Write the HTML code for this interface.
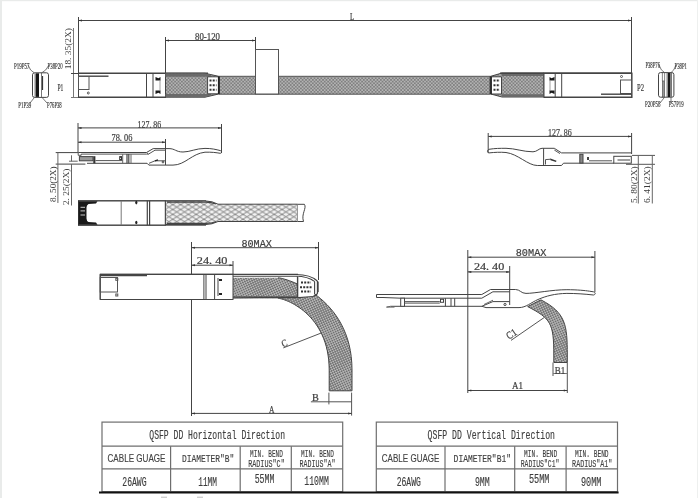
<!DOCTYPE html>
<html><head><meta charset="utf-8">
<style>
html,body{margin:0;padding:0;background:#fff;width:698px;height:498px;overflow:hidden}
svg{display:block;filter:blur(0.35px)}
text{font-family:"Liberation Serif",serif;fill:#3a3a3a}
.s{font-family:"Liberation Sans",sans-serif}
.m{font-family:"Liberation Mono",monospace}
</style></head><body>
<svg width="698" height="498" viewBox="0 0 698 498">
<defs>
 <pattern id="knurl" width="3.4" height="3.4" patternUnits="userSpaceOnUse">
  <rect width="3.4" height="3.4" fill="#808080"/>
  <circle cx="0" cy="0" r="0.8" fill="#cacaca"/><circle cx="3.4" cy="0" r="0.8" fill="#cacaca"/>
  <circle cx="0" cy="3.4" r="0.8" fill="#cacaca"/><circle cx="3.4" cy="3.4" r="0.8" fill="#cacaca"/>
  <circle cx="1.7" cy="1.7" r="0.8" fill="#cacaca"/>
 </pattern>
<pattern id="knurl2" width="3.2" height="3.2" patternUnits="userSpaceOnUse" patternTransform="rotate(20)">
  <rect width="3.2" height="3.2" fill="#727272"/>
  <circle cx="0" cy="0" r="0.75" fill="#d6d6d6"/><circle cx="3.2" cy="0" r="0.75" fill="#d6d6d6"/>
  <circle cx="0" cy="3.2" r="0.75" fill="#d6d6d6"/><circle cx="3.2" cy="3.2" r="0.75" fill="#d6d6d6"/>
  <circle cx="1.6" cy="1.6" r="0.75" fill="#d6d6d6"/>
 </pattern>
 <pattern id="braid" width="7.8" height="4.9" patternUnits="userSpaceOnUse" x="165" y="204.6">
  <rect width="7.8" height="4.9" fill="#f2f2f2"/>
  <path d="M0,0 L7.8,4.9 M0,4.9 L7.8,0 M-7.8,0 L7.8,9.8 M-7.8,4.9 L7.8,-4.9 M0,-4.9 L15.6,4.9 M0,9.8 L15.6,0" stroke="#6e6e6e" stroke-width="0.85" fill="none"/>
 </pattern>
<marker id="ar" viewBox="-4 -2 4 4" refX="0" refY="0" markerWidth="4" markerHeight="4" markerUnits="userSpaceOnUse" orient="auto-start-reverse">
  <path d="M0,0 L-3.5,-1 L-3.5,1 Z" fill="#333"/>
 </marker>
</defs>
<rect width="698" height="498" fill="#fff"/>
<!-- frame -->
<rect x="0" y="0" width="2" height="498" fill="#e9ebea"/>
<rect x="0" y="0" width="698" height="1.2" fill="#e9ebea"/>
<rect x="697" y="0" width="1" height="498" fill="#eef0ef"/>

<g id="sec1" fill="none" stroke="#444" stroke-width="1">
 <!-- L dimension -->
 <line x1="78.5" y1="20.5" x2="631.5" y2="20.5" marker-start="url(#ar)" marker-end="url(#ar)"/>
 <line x1="78.5" y1="17" x2="78.5" y2="73"/>
 <line x1="631.5" y1="17" x2="631.5" y2="73"/>
 <!-- 18.35 dim -->
 <line x1="73.5" y1="28" x2="73.5" y2="97" stroke="#777"/>
 <line x1="71" y1="73.5" x2="78" y2="73.5"/>
 <line x1="71" y1="97.5" x2="78" y2="97.5" stroke="#777"/>
 <!-- 80-120 dim -->
 <line x1="165.5" y1="40.5" x2="255.5" y2="40.5" marker-start="url(#ar)" marker-end="url(#ar)"/>
 <line x1="165.5" y1="37" x2="165.5" y2="73"/>
 <line x1="255.5" y1="37" x2="255.5" y2="49"/>

 <!-- cable -->
 <rect x="219" y="76.3" width="271" height="18" fill="url(#knurl)" stroke="none"/>
 <line x1="219" y1="76.3" x2="490" y2="76.3" stroke="#555"/>
 <line x1="219" y1="94.2" x2="490" y2="94.2" stroke="#555"/>
 <!-- tag box -->
 <rect x="255.5" y="49.5" width="23" height="44.5" fill="#fff" stroke="#555"/>

 <!-- left connector metal -->
 <rect x="78.5" y="73.5" width="87" height="24" fill="#fff"/>
 <line x1="78" y1="73.3" x2="208" y2="73.3" stroke-width="1.6"/>
 <line x1="78.5" y1="76.2" x2="108.5" y2="76.2" stroke-width="1.4"/>
 <rect x="78.5" y="76.5" width="10.5" height="13" stroke="#555"/>
 <circle cx="88.3" cy="93" r="1" stroke="#555"/>
 <line x1="146.5" y1="73.5" x2="146.5" y2="97.5"/>
 <line x1="153" y1="73.5" x2="153" y2="97.5"/>
 <path d="M155.5,77 L158.5,78.3 L160.5,77 L160.5,80.5 L155.5,80.5 Z M155.5,90.5 L160.5,90.5 L160.5,94 L158.5,92.7 L155.5,94 Z" fill="#1a1a1a" stroke="none"/>
 <line x1="160" y1="80" x2="160" y2="91" stroke="#888" stroke-width="0.8"/>
 <!-- left overmold -->
 <path d="M165.5,73.3 L205,73.3 L219.5,76.5 L219.5,93.8 L205,97.2 L165.5,97.2 Z" fill="url(#knurl)" stroke="#444"/>
 <path d="M165.5,73.5 h39.5 l6,1.3 v2 h-45.5z M165.5,97 h39.5 l6,-1.3 v-1.6 h-45.5z" fill="#6a6a6a" stroke="none"/>
 <path d="M207.6,76.8 L218.5,76.8 L218.5,93.8 L207.6,93.8 Z" fill="#fff" stroke="#444"/>
 <path d="M209.5,80.5 h7 M209.5,85.2 h7 M209.5,89.8 h7" stroke="#333" stroke-width="2" stroke-dasharray="2 1.2"/>
 <line x1="218.7" y1="76.5" x2="218.7" y2="94" stroke="#222" stroke-width="1.6"/>
 <line x1="78.5" y1="97.3" x2="165.5" y2="97.3" stroke-width="1.4"/>

 <!-- right overmold -->
 <path d="M490,76.5 L502,73 L544,73 L544,97 L502,97 L490,93.8 Z" fill="url(#knurl)" stroke="#444"/>
 <path d="M502,73.2 h42 v2.8 h-42z M502,94.3 h42 v2.6 h-42z" fill="#6a6a6a" stroke="none"/>
 <path d="M491.2,76.8 L501.5,76.8 L501.5,94 L491.2,94 Z" fill="#fff" stroke="#444"/>
 <path d="M493.5,80.5 h6.5 M493.5,85.2 h6.5 M493.5,89.8 h6.5" stroke="#333" stroke-width="2" stroke-dasharray="2 1.2"/>
 <line x1="491" y1="76.5" x2="491" y2="94.2" stroke="#222" stroke-width="1.6"/>
 <!-- right connector metal -->
 <rect x="544" y="73" width="88" height="24.5" fill="#fff"/>
 <line x1="500" y1="73.2" x2="632" y2="73.2" stroke-width="1.6"/>
 <line x1="544" y1="97.3" x2="632" y2="97.3" stroke-width="1.4"/>
 <line x1="631.6" y1="73" x2="631.6" y2="97.5"/>
 <line x1="555.2" y1="73" x2="555.2" y2="97.5"/>
 <line x1="561.7" y1="73" x2="561.7" y2="97.5"/>
 <path d="M549.5,77 L551.5,78.3 L554.5,77 L554.5,80.5 L549.5,80.5 Z M549.5,90.5 L554.5,90.5 L554.5,94 L551.5,92.7 L549.5,94 Z" fill="#1a1a1a" stroke="none"/>
 <line x1="550" y1="80" x2="550" y2="91" stroke="#888" stroke-width="0.8"/>
 <rect x="620.5" y="80" width="11" height="13.5" stroke="#555"/>
 <path d="M601,94.2 H631.5" stroke-width="1.4"/>
 <circle cx="621.5" cy="76.5" r="1" stroke="#555"/>

 <!-- end faces -->
 <rect x="32.5" y="72.8" width="16" height="24.6" rx="2" stroke="#444"/>
 <rect x="34.5" y="73.3" width="1.5" height="23.6" fill="#888" stroke="none"/>
 <rect x="36" y="73.3" width="3" height="23.6" fill="#141414" stroke="none"/>
 <line x1="41.5" y1="73" x2="41.5" y2="97.3" stroke="#555" stroke-width="0.8"/>
 <line x1="42.6" y1="76" x2="42.6" y2="90" stroke="#222" stroke-width="1"/>
 <path d="M28,65 Q30,71 34.5,73 M49,65 Q46,71 41.5,73 M30,103 L34.5,97.4 M47,103 L42,97.4" stroke="#555" stroke-width="0.8"/>

 <rect x="658.5" y="72.6" width="15.4" height="24.6" rx="2" stroke="#444"/>
 <rect x="662.4" y="81" width="2.2" height="16" fill="#999" stroke="#555" stroke-width="0.7"/>
 <path d="M662.4,73 V81 M664.6,73 V81" stroke="#555" stroke-width="0.7"/>
 <rect x="667.7" y="73" width="2.4" height="24" fill="#1a1a1a" stroke="none"/>
 <rect x="670.1" y="73" width="1.9" height="24" fill="#777" stroke="none"/>
 <line x1="667" y1="73" x2="667" y2="97" stroke="#555" stroke-width="0.7"/>
 <path d="M659,65 Q661,71 664.6,72.6 M676,65 Q674,71 671,72.6 M660,103 L664.6,97.2 M671,103 L671,97.2" stroke="#555" stroke-width="0.8"/>
</g>
<g id="t1" stroke="#4a4a4a" stroke-width="0.22">
 <text x="350" y="19.7" font-size="10" textLength="4.2" lengthAdjust="spacingAndGlyphs" style="font-family:'Liberation Serif'" fill="#474747">L</text>
 <text x="195" y="39.9" font-size="10" textLength="25" lengthAdjust="spacingAndGlyphs" style="font-family:'Liberation Serif'" fill="#474747">80-120</text>
 <text transform="translate(71.4,69.3) rotate(-90)" font-size="8" textLength="41.2" lengthAdjust="spacingAndGlyphs" style="font-family:'Liberation Serif'" fill="#606060" stroke="none">18. 35(2X)</text>
 <text x="57.4" y="91.3" font-size="10.5" textLength="5.9" lengthAdjust="spacingAndGlyphs" style="font-family:'Liberation Serif'" fill="#474747">P1</text>
 <text x="637" y="90.6" font-size="10.5" textLength="7" lengthAdjust="spacingAndGlyphs" style="font-family:'Liberation Serif'" fill="#474747">P2</text>
 <g font-size="6" fill="#444">
 <text x="14" y="68.6" font-size="7.6" textLength="15.5" lengthAdjust="spacingAndGlyphs" style="font-family:'Liberation Serif'" fill="#444">P19P57</text>
 <text x="47.6" y="68.6" font-size="7.6" textLength="15.0" lengthAdjust="spacingAndGlyphs" style="font-family:'Liberation Serif'" fill="#444">P38P20</text>
 <text x="18.3" y="107.5" font-size="7.6" textLength="12.9" lengthAdjust="spacingAndGlyphs" style="font-family:'Liberation Serif'" fill="#444">P1P39</text>
 <text x="47.1" y="107.5" font-size="7.6" textLength="14.6" lengthAdjust="spacingAndGlyphs" style="font-family:'Liberation Serif'" fill="#444">P76P38</text>
 <text x="645.4" y="68.4" font-size="7.6" textLength="14.6" lengthAdjust="spacingAndGlyphs" style="font-family:'Liberation Serif'" fill="#444">P38P76</text>
 <text x="674.5" y="68.8" font-size="7.6" textLength="12.5" lengthAdjust="spacingAndGlyphs" style="font-family:'Liberation Serif'" fill="#444">P38P1</text>
 <text x="645" y="106.5" font-size="7.6" textLength="15.4" lengthAdjust="spacingAndGlyphs" style="font-family:'Liberation Serif'" fill="#444">P20P58</text>
 <text x="668.7" y="106.5" font-size="7.6" textLength="14.9" lengthAdjust="spacingAndGlyphs" style="font-family:'Liberation Serif'" fill="#444">P57P19</text>
 </g>
</g>

<!-- SECTION 2 -->
<g id="sec2" fill="none" stroke="#444" stroke-width="1">
 <!-- left side profile dims -->
 <line x1="78" y1="127.9" x2="221.5" y2="127.9" marker-start="url(#ar)" marker-end="url(#ar)"/>
 <line x1="78" y1="142.2" x2="165.5" y2="142.2" marker-start="url(#ar)" marker-end="url(#ar)"/>
 <line x1="78" y1="123" x2="78" y2="152.5"/>
 <line x1="165.5" y1="139" x2="165.5" y2="165"/>
 <line x1="221.5" y1="124" x2="221.5" y2="153"/>
 <line x1="55.7" y1="152.6" x2="78" y2="152.6"/>
 <line x1="55.7" y1="164.1" x2="85.4" y2="164.1"/>
 <line x1="57.9" y1="152.6" x2="57.9" y2="203" stroke="#666"/>
 <line x1="71.5" y1="155.3" x2="71.5" y2="161.3" stroke="#666"/>
 <line x1="69" y1="161.2" x2="77.7" y2="161.2" stroke="#666"/>
 <line x1="71.5" y1="164" x2="71.5" y2="205.5" stroke="#666"/>
 <!-- left side profile -->
 <path d="M78.2,152.5 L146.5,152.5 L153.2,148.6 L169,148.6 C175,148.6 176,152 183,152 C190,152 196,148.4 205,148.4 C212,148.4 216,149.5 220.3,150.6"/>
 <path d="M87,163.3 L147.1,163.3 L148.9,165.1 L173,165.1 C185,165.1 192,153.5 205,152.2 C212,152 216,152.6 220.3,153.3"/>
 <path d="M220.3,150.6 C222.2,151 222.2,153 220.3,153.3"/>
 <path d="M78.2,152.5 v2.8 h3 v-1.2 H146.5 L148.5,154.1 L155,150.2 H165.5" stroke="#555"/>
 <path d="M146.5,152.5 L148.5,154.1" stroke="#555"/>
 <rect x="79.4" y="156.6" width="13.6" height="4.2" fill="#9a9a9a" stroke="#444"/>
 <rect x="93.3" y="156.2" width="2.1" height="7.1" fill="#333" stroke="none"/>
 <path d="M95.4,160.6 H122.7" stroke="#555"/>
 <rect x="119.7" y="156.6" width="1.8" height="3" stroke="#333"/>
 <path d="M122.7,154.1 v9.2 M131,154.1 v9.2" stroke="#666"/>
 <path d="M127,154.1 v9.2 M128.8,154.1 v9.2" stroke-width="1.2"/>
 <path d="M149,163.3 L155,160.8 H165.5" stroke="#555"/>
 <path d="M155,160.8 l3,-0.9" stroke="#222" stroke-width="1.4"/>
 <circle cx="163" cy="162" r="0.9" stroke="#444"/>

 <!-- top view connector -->
 <rect x="78.5" y="200.8" width="87" height="24.4" fill="#fff"/>
 <line x1="78" y1="200.8" x2="206" y2="200.8"/>
 <line x1="78" y1="225.2" x2="206" y2="225.2"/>
 <line x1="78.5" y1="200.8" x2="78.5" y2="225.2"/>
 <path d="M78.5,201.3 H97.5 L96,203.6 L88.5,204 Q86.5,205 86.5,207.5 V218.5 Q86.5,221 88.5,222 L96,222.4 L97.5,224.8 H78.5 Z" fill="#1a1a1a" stroke="none"/>
 <path d="M80.5,207.3 h4.5 M80.5,210.9 h4.5 M80.5,215 h4.5" stroke="#ddd" stroke-width="0.9"/>
 <line x1="121.2" y1="200.8" x2="121.2" y2="225.2" stroke="#777"/>
 <line x1="147.3" y1="200.8" x2="147.3" y2="225.2" stroke-width="1.2"/>
 <line x1="149.6" y1="200.8" x2="149.6" y2="225.2" stroke-width="1.2"/>
 <line x1="165.4" y1="200.8" x2="165.4" y2="225.2"/>
 <ellipse cx="136.3" cy="202.6" rx="1.1" ry="1.8" fill="#222" stroke="none"/>
 <ellipse cx="136.3" cy="222.5" rx="1.1" ry="1.8" fill="#222" stroke="none"/>
 <!-- braid -->
 <path d="M165.4,201 L206,201 Q212,201 218,204.2 L297.6,204.2 L297.6,221.5 L218,221.5 Q212,224.5 206,224.5 L165.4,224.5 Z" fill="url(#braid)" stroke="#444"/>
 <path d="M167,202.2 H206 Q211,202.2 216,204 M167,223.4 H206 Q211,223.4 216,221.8" stroke="#444" stroke-width="1.2"/>
 <path d="M297.6,204.3 L304.4,204.3 C307,208 301,214 303.5,221.5 L297.6,221.5" fill="#fff" stroke="#444"/>

 <!-- right side profile dims -->
 <line x1="488.2" y1="136.4" x2="631.5" y2="136.4" marker-start="url(#ar)" marker-end="url(#ar)"/>
 <line x1="488.2" y1="133" x2="488.2" y2="153"/>
 <line x1="631.6" y1="133" x2="631.6" y2="154"/>
 <line x1="632" y1="155.4" x2="655" y2="155.4" stroke="#555"/>
 <line x1="626" y1="164.3" x2="655" y2="164.3" stroke="#555"/>
 <line x1="638.3" y1="155.4" x2="638.3" y2="203.5" stroke="#666"/>
 <line x1="652.3" y1="155.4" x2="652.3" y2="203.5" stroke="#666"/>
 <!-- right side profile -->
 <path d="M489,149.3 C495,148.3 500,148.3 506,148.3 C515,148.3 523,151.8 533,151.8 C537,151.8 539,148.3 542,148.3 L554.3,148.3 L561.5,152.9 L631.6,152.9"/>
 <path d="M489,152.9 C495,152.3 500,152 506,152.5 C518,154 528,165.5 537.3,165.5 L561.5,165.5 L563.5,163.2 L614,163.2"/>
 <path d="M489,149.3 C487,150 487,152.5 489,152.9"/>
 <line x1="543.6" y1="148.3" x2="543.6" y2="165.5"/>
 <path d="M554.3,150 L560,153.6" stroke="#555"/>
 <path d="M545.5,164.5 V159.6 L551,159.2" stroke="#555"/>
 <path d="M550.5,158.6 L556.5,160.8 L556,162 L550.5,160.2 Z" fill="#333" stroke="none"/>
 <rect x="579.8" y="154.3" width="3.2" height="8.8" fill="#888" stroke="#444"/>
 <rect x="587" y="157" width="2" height="3" fill="#444" stroke="none"/>
 <path d="M589,160.8 H612" stroke="#555"/>
 <rect x="613.8" y="156.3" width="17.5" height="6.9" stroke="#444"/>
 <line x1="617.5" y1="160" x2="630" y2="160" stroke="#888" stroke-width="1.6"/>
</g>
<g id="t2" stroke="#4a4a4a" stroke-width="0.22">
 <text x="137.6" y="127.8" font-size="10.8" textLength="23.6" lengthAdjust="spacingAndGlyphs" style="font-family:'Liberation Serif'" fill="#474747">127. 86</text>
 <text x="111.5" y="140.9" font-size="10" textLength="20.8" lengthAdjust="spacingAndGlyphs" style="font-family:'Liberation Serif'" fill="#474747">78. 06</text>
 <text x="548" y="135.6" font-size="10.8" textLength="23.8" lengthAdjust="spacingAndGlyphs" style="font-family:'Liberation Serif'" fill="#474747">127. 86</text>
 <text transform="translate(56,202.1) rotate(-90)" font-size="8.3" textLength="35.6" lengthAdjust="spacingAndGlyphs" style="font-family:'Liberation Serif'" fill="#606060" stroke="none">8. 50(2X)</text>
 <text transform="translate(69.4,205.1) rotate(-90)" font-size="8.3" textLength="36.6" lengthAdjust="spacingAndGlyphs" style="font-family:'Liberation Serif'" fill="#606060" stroke="none">2. 25(2X)</text>
 <text transform="translate(636.9,203.1) rotate(-90)" font-size="8.3" textLength="36.8" lengthAdjust="spacingAndGlyphs" style="font-family:'Liberation Serif'" fill="#606060" stroke="none">5. 80(2X)</text>
 <text transform="translate(650.1,203.1) rotate(-90)" font-size="8.3" textLength="36.8" lengthAdjust="spacingAndGlyphs" style="font-family:'Liberation Serif'" fill="#606060" stroke="none">6. 41(2X)</text>
</g>

<!-- SECTION 3 : horizontal bend -->
<g id="sec3" fill="none" stroke="#444" stroke-width="1">
 <line x1="191.5" y1="247.7" x2="318.5" y2="247.7" marker-start="url(#ar)" marker-end="url(#ar)"/>
 <line x1="191.5" y1="265.2" x2="233" y2="265.2" marker-start="url(#ar)" marker-end="url(#ar)"/>
 <line x1="191.5" y1="242" x2="191.5" y2="416"/>
 <line x1="233" y1="261" x2="233" y2="274"/>
 <line x1="318.5" y1="242" x2="318.5" y2="280"/>
 <!-- bend cable -->
 <path d="M233,277.8 L278,277.8 C284,277.8 352,295.5 352,370 L352,390.8 L329.2,390.8 L329.2,370 C329.2,313 284,298.3 278,298.3 L233,298.3 Z" fill="url(#knurl2)" stroke="none"/>
 <path d="M278,277.8 C284,277.8 352,295.5 352,370 L352,390.8 M329.2,390.8 L329.2,370 C329.2,313 284,298.3 278,298.3" stroke="#444"/>
 <path d="M329.2,390.8 H352" stroke="#444"/>
 <!-- connector -->
 <rect x="100.2" y="274.3" width="132.8" height="25.2" fill="#fff"/>
 <line x1="100" y1="274.3" x2="298" y2="274.3" stroke-width="1.3"/>
 <line x1="100" y1="299.5" x2="233" y2="299.5"/>
 <line x1="100" y1="275.6" x2="147" y2="275.6" stroke-width="1.5"/>
 <line x1="100.2" y1="274.3" x2="100.2" y2="299.5"/>
 <rect x="100.2" y="277.5" width="17.3" height="14.5" stroke="#555"/>
 <rect x="115.8" y="278.3" width="2" height="2" stroke="#555"/>
 <rect x="115.8" y="294" width="2" height="2" stroke="#555"/>
 <line x1="203.9" y1="274.3" x2="203.9" y2="299.5"/>
 <line x1="206" y1="274.3" x2="206" y2="299.5"/>
 <line x1="214.6" y1="274.3" x2="214.6" y2="299.5"/>
 <line x1="218" y1="278" x2="218" y2="296"/>
 <path d="M219,279 h3 v2 h-3z M219,293 h3 v2 h-3z" fill="#222" stroke="none"/>
 <!-- overmold -->
 <path d="M233,274.5 L296,274.5 C305,274.5 312,276 317.3,281" stroke-width="1.2"/>
 <path d="M233,276.3 L296,276.3 C304,276.3 310,278 314.9,281.7" stroke-width="1.1"/>
 <path d="M233,297.8 L298.3,297.5 L313.5,296.2 C316.5,295.3 317.5,294 317.5,292.6 L317.5,281" stroke-width="1.3"/>
 <path d="M233,296.6 L297.6,296.6" stroke="#555" stroke-width="0.8"/>
 <path d="M297.6,276.5 L297.6,297.2 L298,297 L313,296 Q314.6,295 314.6,293 L314.6,282 L297.6,276.5 Z" fill="#fff" stroke="none"/>
 <path d="M297.6,276.3 V297.3" stroke-width="1.4"/>
 <path d="M314.6,282 V294" stroke-width="1.1"/>
 <path d="M317.9,281.7 V292" stroke-width="1.5"/>
 <path d="M301,282.5 h10 M300,287.2 h12 M301,291.5 h10" stroke="#333" stroke-width="2" stroke-dasharray="2 1.2"/>
 <!-- C leader -->
 <line x1="283.3" y1="347.9" x2="321.5" y2="332.9" stroke="#555"/>
 <!-- B dim -->
 <line x1="328.9" y1="392.6" x2="328.9" y2="404.4" stroke="#555"/>
 <line x1="351.6" y1="392.6" x2="351.6" y2="415.6" stroke="#555"/>
 <line x1="310.9" y1="401.8" x2="351.6" y2="401.8" stroke="#555"/>
 <!-- A dim -->
 <line x1="191.5" y1="413.4" x2="351.6" y2="413.4" marker-start="url(#ar)" marker-end="url(#ar)"/>
</g>
<g id="t3" stroke="#4a4a4a" stroke-width="0.22">
 <text x="241.4" y="246.9" font-size="11.5" textLength="30.4" lengthAdjust="spacingAndGlyphs" style="font-family:'Liberation Mono'" fill="#474747">80MAX</text>
 <text x="196.8" y="264.4" font-size="10.8" textLength="30.7" lengthAdjust="spacingAndGlyphs" style="font-family:'Liberation Serif'" fill="#4a5060">24. 40</text>
 <text transform="translate(283,347.3) rotate(-21)" x="0" y="0" font-size="10" textLength="5.4" lengthAdjust="spacingAndGlyphs" style="font-family:'Liberation Serif'" fill="#474747">C</text>
 <text x="312" y="401" font-size="9.5" textLength="6.8" lengthAdjust="spacingAndGlyphs" style="font-family:'Liberation Serif'" fill="#474747">B</text>
 <text x="269" y="413" font-size="10" textLength="5.4" lengthAdjust="spacingAndGlyphs" style="font-family:'Liberation Serif'" fill="#474747">A</text>
</g>

<!-- SECTION 4 : vertical bend -->
<g id="sec4" fill="none" stroke="#444" stroke-width="1">
 <line x1="467.8" y1="257.2" x2="594.9" y2="257.2" marker-start="url(#ar)" marker-end="url(#ar)"/>
 <line x1="467.8" y1="271.9" x2="509.7" y2="271.9" marker-start="url(#ar)" marker-end="url(#ar)"/>
 <line x1="467.8" y1="250" x2="467.8" y2="393"/>
 <line x1="509.7" y1="266" x2="509.7" y2="305"/>
 <line x1="594.9" y1="251" x2="594.9" y2="292"/>
 <!-- bend cable -->
 <path d="M527.7,306.6 C550.8,318.6 553.8,323 553.8,355 L553.8,362.5 L567.3,362.5 L567.3,355 C567.3,325 565.8,312.8 541,299.9 C536,302 531,305 527.7,306.6 Z" fill="url(#knurl2)" stroke="#444"/>
 <!-- profile -->
 <path d="M376.5,294.5 L481.8,294.5 L490.5,289.5 L515.6,289.5 C520,289.5 521,293.4 526,293.4 C535,293.4 552,289.7 566.9,289.7 C577,289.7 585,290.5 589.5,291.2 L593.5,291.8"/>
 <path d="M593.5,291.8 C595.8,292.5 595.8,294.5 593.5,295"/>
 <path d="M593.5,295 C585,294 575,293.4 566.9,293.4 C555,293.6 546,296 538,299.5 C531,302.5 526,307.6 519,307.6 L486,307.6 L482,306.3 L390.5,306.3"/>
 <path d="M376.5,294.5 v3 h6.5 L400.7,298.2 L481.8,298.2 L492.9,291.8 L509.7,291.8"/>
 <path d="M390.5,306.3 l-4,0.8 h8" stroke="#666"/>
 <rect x="400.7" y="298.2" width="3.8" height="8.1" fill="#fff"/>
 <path d="M404.5,301.6 H439.8 M404.5,303.1 H439.8" stroke="#555"/>
 <rect x="440.5" y="299.3" width="3" height="3" stroke="#444"/>
 <path d="M445.4,298.2 v8.1 M451,298.2 v8.1 M454.7,298.2 v8.1"/>
 <path d="M481.8,306.3 L492.9,301.6 L509.7,301.6"/>
 <path d="M484,304.5 L493,300.2" stroke="#666"/>
 <circle cx="505" cy="304.5" r="1.1" stroke="#444"/>
 <!-- C1 leader -->
 <line x1="511" y1="340.4" x2="544.1" y2="317.6" stroke="#555"/>
 <!-- B1 -->
 <line x1="553" y1="362.5" x2="553" y2="376" stroke="#555"/>
 <line x1="567.3" y1="362.5" x2="567.3" y2="393" stroke="#555"/>
 <line x1="553" y1="373.5" x2="567.3" y2="373.5" stroke="#777"/>
 <!-- A1 dim -->
 <line x1="467.8" y1="390.5" x2="567.3" y2="390.5" marker-start="url(#ar)" marker-end="url(#ar)"/>
</g>
<g id="t4" stroke="#4a4a4a" stroke-width="0.22">
 <text x="515.7" y="256.1" font-size="11.5" textLength="30.8" lengthAdjust="spacingAndGlyphs" style="font-family:'Liberation Mono'" fill="#474747">80MAX</text>
 <text x="473.9" y="270.3" font-size="10.8" textLength="30.4" lengthAdjust="spacingAndGlyphs" style="font-family:'Liberation Serif'" fill="#474747">24. 40</text>
 <text x="554.7" y="374" font-size="10" textLength="10.4" lengthAdjust="spacingAndGlyphs" style="font-family:'Liberation Serif'" fill="#474747">B1</text>
 <text x="512" y="389.4" font-size="10" textLength="11" lengthAdjust="spacingAndGlyphs" style="font-family:'Liberation Serif'" fill="#474747">A1</text>
 <text transform="translate(509,339.8) rotate(-34)" font-size="10.5" textLength="10.5" lengthAdjust="spacingAndGlyphs" fill="#474747">C1</text>
</g>

<!-- TABLES -->
<g id="tables" fill="none" stroke="#6e6e6e" stroke-width="1.2">
 <rect x="102" y="422.1" width="240.7" height="69.6"/>
 <line x1="102" y1="446.2" x2="342.7" y2="446.2"/>
 <line x1="102" y1="468.9" x2="342.7" y2="468.9"/>
 <line x1="170.6" y1="446.2" x2="170.6" y2="491.7"/>
 <line x1="240.2" y1="446.2" x2="240.2" y2="491.7"/>
 <line x1="291.3" y1="446.2" x2="291.3" y2="491.7"/>

 <rect x="376.3" y="422.1" width="241.2" height="69.6"/>
 <line x1="376.3" y1="446.2" x2="617.5" y2="446.2"/>
 <line x1="376.3" y1="468.9" x2="617.5" y2="468.9"/>
 <line x1="445" y1="446.2" x2="445" y2="491.7"/>
 <line x1="514.7" y1="446.2" x2="514.7" y2="491.7"/>
 <line x1="566.1" y1="446.2" x2="566.1" y2="491.7"/>
 <line x1="99" y1="492.4" x2="618.6" y2="492.4" stroke="#111" stroke-width="2"/>
</g>
<g id="t5" stroke="#4a4a4a" stroke-width="0.15">
 <text x="149.3" y="439" font-size="12" textLength="135.7" lengthAdjust="spacingAndGlyphs" style="font-family:'Liberation Mono'" fill="#4a4a4a">QSFP DD Horizontal Direction</text>
 <text x="427.6" y="439" font-size="12" textLength="127.4" lengthAdjust="spacingAndGlyphs" style="font-family:'Liberation Mono'" fill="#4a4a4a">QSFP DD Vertical Direction</text>
 <text x="107.5" y="461.6" font-size="10.2" textLength="58.0" lengthAdjust="spacingAndGlyphs" style="font-family:'Liberation Sans'" fill="#555" stroke="#555" stroke-width="0.12">CABLE GUAGE</text>
 <text x="381.8" y="461.6" font-size="10.2" textLength="57.7" lengthAdjust="spacingAndGlyphs" style="font-family:'Liberation Sans'" fill="#555" stroke="#555" stroke-width="0.12">CABLE GUAGE</text>
 <text x="182" y="461.6" font-size="11.3" textLength="52.3" lengthAdjust="spacingAndGlyphs" style="font-family:'Liberation Mono'" fill="#474747">DIAMETER&quot;B&quot;</text>
 <text x="453.6" y="461.6" font-size="11.3" textLength="57.4" lengthAdjust="spacingAndGlyphs" style="font-family:'Liberation Mono'" fill="#474747">DIAMETER&quot;B1&quot;</text>
 <text x="250.1" y="457.2" font-size="10.8" textLength="32.8" lengthAdjust="spacingAndGlyphs" style="font-family:'Liberation Mono'" fill="#505050">MIN. BEND</text>
 <text x="248.2" y="466.9" font-size="10.8" textLength="36.5" lengthAdjust="spacingAndGlyphs" style="font-family:'Liberation Mono'" fill="#505050">RADIUS&quot;C&quot;</text>
 <text x="301.1" y="457.2" font-size="10.8" textLength="32.8" lengthAdjust="spacingAndGlyphs" style="font-family:'Liberation Mono'" fill="#505050">MIN. BEND</text>
 <text x="299.6" y="466.9" font-size="10.8" textLength="35.8" lengthAdjust="spacingAndGlyphs" style="font-family:'Liberation Mono'" fill="#505050">RADIUS&quot;A&quot;</text>
 <text x="524.1" y="457.2" font-size="10.8" textLength="33.1" lengthAdjust="spacingAndGlyphs" style="font-family:'Liberation Mono'" fill="#505050">MIN. BEND</text>
 <text x="520.7" y="466.9" font-size="10.8" textLength="38.8" lengthAdjust="spacingAndGlyphs" style="font-family:'Liberation Mono'" fill="#505050">RADIUS&quot;C1&quot;</text>
 <text x="575.1" y="457.2" font-size="10.8" textLength="33.5" lengthAdjust="spacingAndGlyphs" style="font-family:'Liberation Mono'" fill="#505050">MIN. BEND</text>
 <text x="572.1" y="466.9" font-size="10.8" textLength="40.3" lengthAdjust="spacingAndGlyphs" style="font-family:'Liberation Mono'" fill="#505050">RADIUS&quot;A1&quot;</text>
 <text x="122.3" y="485.8" font-size="12" textLength="24.3" lengthAdjust="spacingAndGlyphs" style="font-family:'Liberation Mono'" fill="#474747">26AWG</text>
 <text x="198.2" y="485.8" font-size="12" textLength="18.8" lengthAdjust="spacingAndGlyphs" style="font-family:'Liberation Mono'" fill="#474747">11MM</text>
 <text x="254.7" y="483.3" font-size="12" textLength="19.7" lengthAdjust="spacingAndGlyphs" style="font-family:'Liberation Mono'" fill="#474747">55MM</text>
 <text x="304.3" y="484.9" font-size="12" textLength="24.5" lengthAdjust="spacingAndGlyphs" style="font-family:'Liberation Mono'" fill="#474747">110MM</text>
 <text x="396.7" y="485.8" font-size="12" textLength="24.2" lengthAdjust="spacingAndGlyphs" style="font-family:'Liberation Mono'" fill="#474747">26AWG</text>
 <text x="474.9" y="485.8" font-size="12" textLength="14.9" lengthAdjust="spacingAndGlyphs" style="font-family:'Liberation Mono'" fill="#474747">9MM</text>
 <text x="528.9" y="483.3" font-size="12" textLength="20.5" lengthAdjust="spacingAndGlyphs" style="font-family:'Liberation Mono'" fill="#474747">55MM</text>
 <text x="581" y="485.8" font-size="12" textLength="20.5" lengthAdjust="spacingAndGlyphs" style="font-family:'Liberation Mono'" fill="#474747">90MM</text>
</g>
<rect x="161" y="496.6" width="6" height="1.4" fill="#d0d0d0"/><rect x="197" y="496.6" width="6" height="1.4" fill="#d0d0d0"/>
</svg>
</body></html>
